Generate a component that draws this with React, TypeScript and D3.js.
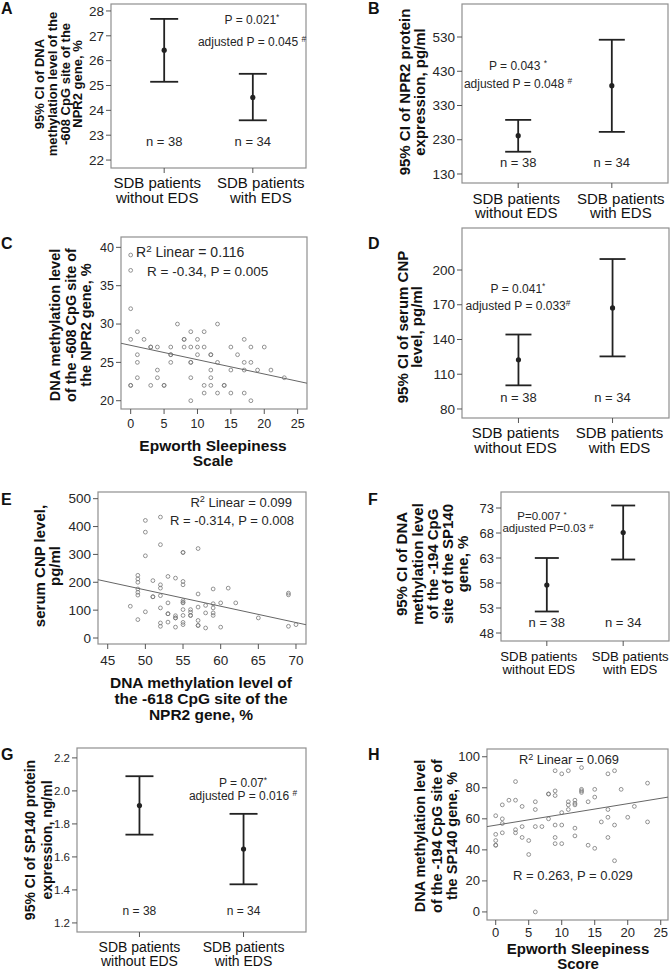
import React from "react";
import * as d3 from "d3";

const FONT = "'Liberation Sans', Arial, Helvetica, sans-serif";
const TEXT = "#262626";
const FRAME = "#8f8f8f";
const BAR = "#222";
const DOT = "#777";

// ---------- shared categories ----------
const categoryLines = [["SDB patients", "without EDS"], ["SDB patients", "with EDS"]];
const groupN = ["n = 38", "n = 34"];

// ---------- A: DNA methylation -608 CpG NPR2 ----------
const aMean = [26.42, 24.52];
const aLower = [25.15, 23.6];
const aUpper = [27.68, 25.47];
const aTicks = [22, 23, 24, 25, 26, 27, 28];
const aP = [["P = 0.021", "*"], ["adjusted P = 0.045 ", "#"]];

// ---------- B: NPR2 protein ----------
const bMean = [242, 388];
const bLower = [195, 253];
const bUpper = [288, 522];
const bTicks = [130, 230, 330, 430, 530];
const bP = [["P = 0.043 ", "*"], ["adjusted P = 0.048 ", "#"]];

// ---------- D: serum CNP ----------
const dMean = [122.5, 167.3];
const dLower = [100.4, 125.4];
const dUpper = [144.3, 209.5];
const dTicks = [80, 110, 140, 170, 200];
const dP = [["P = 0.041", "*"], ["adjusted P = 0.033", "#"]];

// ---------- F: DNA methylation -194 CpG SP140 ----------
const fMean = [57.6, 68.1];
const fLower = [52.3, 62.7];
const fUpper = [63.0, 73.5];
const fTicks = [48, 53, 58, 63, 68, 73];
const fP = [["P=0.007 ", "*"], ["adjusted P=0.03 ", "#"]];

// ---------- G: SP140 protein ----------
const gMean = [1.911, 1.648];
const gLower = [1.735, 1.434];
const gUpper = [2.089, 1.861];
const gTicks = [1.2, 1.4, 1.6, 1.8, 2.0, 2.2];
const gP = [["P = 0.07", "*"], ["adjusted P = 0.016 ", "#"]];

// ---------- C: ESS vs NPR2 -608 methylation ----------
const cPoints = [
  [0, 39], [0, 37], [0, 32], [0, 28], [0, 22], [0, 22],
  [1, 29], [1, 26], [1, 25], [1, 23],
  [2, 28],
  [3, 27], [3, 27], [3, 22],
  [4, 27], [4, 24], [4, 23],
  [5, 22], [5, 22],
  [6, 27], [6, 26], [6, 26], [6, 25],
  [7, 30],
  [8, 28], [8, 28], [8, 27],
  [9, 29], [9, 27], [9, 25], [9, 25], [9, 23], [9, 20],
  [10, 28], [10, 27], [10, 26],
  [11, 29], [11, 27], [11, 22], [11, 21],
  [12, 26], [12, 26], [12, 24], [12, 23], [12, 22],
  [13, 30], [13, 25], [13, 21],
  [14, 22], [14, 22],
  [15, 27], [15, 24], [15, 21],
  [16, 26],
  [17, 28], [17, 25], [17, 24], [17, 21],
  [18, 27], [18, 25], [18, 20],
  [19, 24], [20, 27], [21, 24], [23, 23],
];
const cFit = [27.22, -0.187];
const cXTicks = [0, 5, 10, 15, 20, 25];
const cYTicks = [20, 25, 30, 35, 40];

// ---------- E: NPR2 -618 methylation vs serum CNP ----------
const ePoints = [
  [48, 114], [49, 225], [49, 212], [49, 200], [49, 176], [49, 164], [49, 154], [49, 66],
  [50, 422], [50, 380], [50, 295], [50, 94],
  [51, 206], [51, 148], [51, 148],
  [52, 434], [52, 335], [52, 191], [52, 179], [52, 152], [52, 108], [52, 54], [52, 42],
  [53, 221], [53, 126], [53, 87], [53, 87], [53, 57],
  [54, 215], [54, 80], [54, 72], [54, 72], [54, 39],
  [55, 307], [55, 307], [55, 203], [55, 191], [55, 134], [55, 128], [55, 126], [55, 102], [55, 81], [55, 56], [55, 48],
  [56, 102], [56, 93], [56, 81], [56, 81],
  [57, 321], [57, 158], [57, 111], [57, 63], [57, 45], [57, 45],
  [58, 117], [58, 90], [58, 36],
  [59, 176], [59, 123], [59, 108], [59, 90], [59, 81],
  [60, 126], [60, 39], [61, 179], [62, 126], [65, 72],
  [69, 161], [69, 155], [69, 42], [70, 48],
];
const eFit = [465, -5.85];
const eXTicks = [45, 50, 55, 60, 65, 70];
const eYTicks = [0, 100, 200, 300, 400, 500];

// ---------- H: ESS vs SP140 -194 methylation ----------
const hPoints = [
  [0, 62], [0, 50], [0, 46], [0, 43], [0, 43],
  [1, 69], [1, 60], [1, 57], [1, 51],
  [2, 72],
  [3, 84], [3, 72], [3, 53], [3, 51],
  [4, 68], [4, 55], [4, 48],
  [5, 46], [5, 37],
  [6, 71], [6, 66], [6, 55], [6, 0],
  [7, 55],
  [8, 76], [8, 76], [8, 60],
  [9, 91], [9, 78], [9, 75], [9, 56], [9, 48], [9, 44],
  [10, 89], [10, 64], [10, 56], [10, 44],
  [11, 91], [11, 71], [11, 69], [11, 66],
  [12, 72], [12, 70], [12, 69], [12, 54], [12, 49],
  [13, 93], [13, 79], [13, 78], [13, 77],
  [14, 71], [14, 43],
  [15, 79], [15, 74], [15, 41],
  [16, 58],
  [17, 89], [17, 66], [17, 61], [17, 48],
  [18, 91], [18, 56], [18, 33],
  [19, 79], [20, 61], [21, 68], [23, 83], [23, 58],
];
const hFit = [55.9, 0.693];
const hXTicks = [0, 5, 10, 15, 20, 25];
const hYTicks = [0, 20, 40, 60, 80, 100];

// ---------- helpers ----------
function RotTitle({ lines, xs, cy, size }) {
  return (
    <g>
      {lines.map((l, i) => (
        <text key={i} transform={`translate(${xs[i]},${cy}) rotate(-90)`} textAnchor="middle" dy="0.35em"
          fontSize={size} fontWeight="bold" fill="#111" fontFamily={FONT}>{l}</text>
      ))}
    </g>
  );
}

function HTitle({ lines, cx, ys, size }) {
  return (
    <g>
      {lines.map((l, i) => (
        <text key={i} x={cx} y={ys[i]} textAnchor="middle" fontSize={size} fontWeight="bold" fill="#111" fontFamily={FONT}>{l}</text>
      ))}
    </g>
  );
}

function Letter({ t, x, y }) {
  return <text x={x} y={y} fontSize={16} fontWeight="bold" fill="#111" fontFamily="'Liberation Sans Narrow', 'Liberation Sans', Arial, sans-serif">{t}</text>;
}

function PText({ lines, cx, ys, size, anchor = "middle" }) {
  return (
    <g>
      {lines.map((l, i) => (
        <text key={i} x={cx[i]} y={ys[i]} textAnchor={anchor} fontSize={size} fill={TEXT} fontFamily={FONT}>
          {l[0]}
          <tspan fontSize={size * 0.7} dy={-size * 0.3}>{l[1]}</tspan>
        </text>
      ))}
    </g>
  );
}

function ErrorBarPanel(p) {
  const { fr, domain, ticks, fmt, tickSize, mean, lower, upper, cap, catSize, catDy, catShift, nDy, nSize } = p;
  const y = d3.scaleLinear().domain(domain).range([fr.y1, fr.y0]);
  const x = d3.scalePoint().domain([0, 1]).range([fr.x0, fr.x1]).padding(0.6);
  return (
    <g>
      <rect x={fr.x0} y={fr.y0} width={fr.x1 - fr.x0} height={fr.y1 - fr.y0} fill="none" stroke={FRAME} strokeWidth={1.2} />
      {ticks.map((t) => (
        <g key={t}>
          <line x1={fr.x0 - 5} x2={fr.x0} y1={y(t)} y2={y(t)} stroke="#555" />
          <text x={fr.x0 - 7} y={y(t)} dy="0.35em" textAnchor="end" fontSize={tickSize} fill={TEXT} fontFamily={FONT}>{fmt(t)}</text>
        </g>
      ))}
      {mean.map((m, i) => {
        const cx = x(i);
        return (
          <g key={i}>
            <line x1={cx} x2={cx} y1={fr.y1} y2={fr.y1 + 5} stroke="#555" />
            <line x1={cx} x2={cx} y1={y(lower[i])} y2={y(upper[i])} stroke={BAR} strokeWidth={1.8} />
            <line x1={cx - cap / 2} x2={cx + cap / 2} y1={y(upper[i])} y2={y(upper[i])} stroke={BAR} strokeWidth={1.8} />
            <line x1={cx - cap / 2} x2={cx + cap / 2} y1={y(lower[i])} y2={y(lower[i])} stroke={BAR} strokeWidth={1.8} />
            <circle cx={cx} cy={y(m)} r={2.6} fill={BAR} />
            <text x={cx} y={fr.y1 - nDy} textAnchor="middle" fontSize={nSize} fill={TEXT} fontFamily={FONT}>{groupN[i]}</text>
            {categoryLines[i].map((l, j) => (
              <text key={j} x={cx + catShift[i]} y={fr.y1 + catDy[j]} textAnchor="middle" fontSize={catSize} fill="#111" fontFamily={FONT}>{l}</text>
            ))}
          </g>
        );
      })}
    </g>
  );
}

function ScatterPanel(p) {
  const { fr, xDomain, yDomain, xTicks, yTicks, points, fit, tickSize, xLabDy } = p;
  const x = d3.scaleLinear().domain(xDomain).range([fr.x0, fr.x1]);
  const y = d3.scaleLinear().domain(yDomain).range([fr.y1, fr.y0]);
  const line = d3.line().x((d) => x(d[0])).y((d) => y(d[1]));
  const fitPts = xDomain.map((v) => [v, fit[0] + fit[1] * v]);
  return (
    <g>
      <rect x={fr.x0} y={fr.y0} width={fr.x1 - fr.x0} height={fr.y1 - fr.y0} fill="none" stroke={FRAME} strokeWidth={1.2} />
      {yTicks.map((t) => (
        <g key={t}>
          <line x1={fr.x0 - 5} x2={fr.x0} y1={y(t)} y2={y(t)} stroke="#555" />
          <text x={fr.x0 - 7} y={y(t)} dy="0.35em" textAnchor="end" fontSize={tickSize} fill={TEXT} fontFamily={FONT}>{t}</text>
        </g>
      ))}
      {xTicks.map((t) => (
        <g key={t}>
          <line x1={x(t)} x2={x(t)} y1={fr.y1} y2={fr.y1 + 5} stroke="#555" />
          <text x={x(t)} y={fr.y1 + xLabDy} textAnchor="middle" fontSize={tickSize} fill={TEXT} fontFamily={FONT}>{t}</text>
        </g>
      ))}
      {points.map((d, i) => (
        <circle key={i} cx={x(d[0])} cy={y(d[1])} r={1.9} fill="none" stroke={DOT} strokeWidth={0.8} />
      ))}
      <path d={line(fitPts)} fill="none" stroke="#666" strokeWidth={1} />
    </g>
  );
}

function R2({ x, y, val, size, anchor = "start" }) {
  return (
    <text x={x} y={y} fontSize={size} fill={TEXT} fontFamily={FONT} textAnchor={anchor}>
      R<tspan fontSize={size * 0.7} dy={-size * 0.35}>2</tspan>
      <tspan dy={size * 0.35}>{" Linear = " + val}</tspan>
    </text>
  );
}

export default function App() {
  return (
    <svg width={670} height={971} style={{ position: "absolute", left: 0, top: 0, background: "#fff" }}>
      <rect width={670} height={971} fill="#fff" />

      {/* A */}
      <Letter t="A" x={1} y={14} />
      <ErrorBarPanel fr={{ x0: 111, x1: 306, y0: 4, y1: 168 }} domain={[21.68, 28.28]} ticks={aTicks} fmt={(t) => String(t)}
        tickSize={13.5} mean={aMean} lower={aLower} upper={aUpper} cap={28} catSize={15} catDy={[20, 35]} catShift={[-7, 8]} nDy={22} nSize={13} />
      <PText lines={aP} cx={[252, 252]} ys={[24, 46]} size={12} />
      <RotTitle lines={["95% CI of DNA", "methylation level of the", "-608 CpG site of the", "NPR2 gene, %"]} xs={[39, 52, 65, 77]} cy={84} size={13} />

      {/* B */}
      <Letter t="B" x={368} y={14} />
      <ErrorBarPanel fr={{ x0: 462, x1: 668, y0: 4, y1: 183 }} domain={[103.7, 626.4]} ticks={bTicks} fmt={(t) => String(t)}
        tickSize={13.5} mean={bMean} lower={bLower} upper={bUpper} cap={26} catSize={15} catDy={[21, 35]} catShift={[-2, 9]} nDy={16} nSize={13} />
      <PText lines={bP} cx={[518, 518]} ys={[70, 88]} size={12} />
      <RotTitle lines={["95% CI of NPR2 protein", "expression, pg/ml"]} xs={[405, 420]} cy={92} size={15} />

      {/* C */}
      <Letter t="C" x={1} y={249} />
      <ScatterPanel fr={{ x0: 121, x1: 307, y0: 237, y1: 409 }} xDomain={[-1.45, 26.4]} yDomain={[18.92, 41.35]}
        xTicks={cXTicks} yTicks={cYTicks} points={cPoints} fit={cFit} tickSize={12.5} xLabDy={19} />
      <R2 x={136} y={257} val="0.116" size={14} />
      <text x={147} y={276} fontSize={13.5} fill={TEXT} fontFamily={FONT}>R = -0.34, P = 0.005</text>
      <RotTitle lines={["DNA methylation level", "of the -608 CpG site of", "the NPR2 gene, %"]} xs={[55, 71, 86]} cy={325} size={14.5} />
      <HTitle lines={["Epworth Sleepiness", "Scale"]} cx={213} ys={[451, 466]} size={15.5} />

      {/* D */}
      <Letter t="D" x={368} y={249} />
      <ErrorBarPanel fr={{ x0: 462, x1: 669, y0: 228, y1: 418 }} domain={[72.2, 236.3]} ticks={dTicks} fmt={(t) => String(t)}
        tickSize={13.5} mean={dMean} lower={dLower} upper={dUpper} cap={26} catSize={15} catDy={[20, 35]} catShift={[-3, 7]} nDy={16} nSize={13} />
      <PText lines={dP} cx={[518, 518]} ys={[293, 310]} size={12} />
      <RotTitle lines={["95% CI of serum CNP", "level, pg/ml"]} xs={[403, 417]} cy={327} size={15} />

      {/* E */}
      <Letter t="E" x={1} y={505} />
      <ScatterPanel fr={{ x0: 98, x1: 306, y0: 492, y1: 644 }} xDomain={[43.71, 71.33]} yDomain={[-21.5, 524]}
        xTicks={eXTicks} yTicks={eYTicks} points={ePoints} fit={eFit} tickSize={13.5} xLabDy={21} />
      <R2 x={292} y={507} val="0.099" size={13} anchor="end" />
      <text x={294} y={525} fontSize={13} fill={TEXT} fontFamily={FONT} textAnchor="end">R = -0.314, P = 0.008</text>
      <RotTitle lines={["serum CNP level,", "pg/ml"]} xs={[40, 55]} cy={566} size={15} />
      <HTitle lines={["DNA methylation level of", "the -618 CpG site of the", "NPR2 gene, %"]} cx={201} ys={[688, 704, 720]} size={15.5} />

      {/* F */}
      <Letter t="F" x={368} y={505} />
      <ErrorBarPanel fr={{ x0: 501, x1: 669, y0: 492, y1: 641 }} domain={[46.4, 76.2]} ticks={fTicks} fmt={(t) => String(t)}
        tickSize={13} mean={fMean} lower={fLower} upper={fUpper} cap={24} catSize={13.2} catDy={[20, 33]} catShift={[-8, 7]} nDy={14} nSize={13} />
      <PText lines={fP} cx={[542, 548]} ys={[520, 532]} size={11.5} />
      <RotTitle lines={["95% CI of DNA", "methylation level", "of the -194 CpG", "site of the SP140", "gene, %"]} xs={[402, 418, 433, 448, 463]} cy={564} size={15} />

      {/* G */}
      <Letter t="G" x={1} y={760} />
      <ErrorBarPanel fr={{ x0: 77, x1: 306, y0: 748, y1: 932 }} domain={[1.145, 2.26]} ticks={gTicks} fmt={(t) => t.toFixed(1)}
        tickSize={11.5} mean={gMean} lower={gLower} upper={gUpper} cap={28} catSize={14} catDy={[20, 34]} catShift={[0, 0]} nDy={17} nSize={12} />
      <PText lines={gP} cx={[243, 243]} ys={[787, 800]} size={12} />
      <RotTitle lines={["95% CI of SP140 protein", "expression, ng/ml"]} xs={[30, 47]} cy={840} size={14} />

      {/* H */}
      <Letter t="H" x={368} y={760} />
      <ScatterPanel fr={{ x0: 487, x1: 668, y0: 749, y1: 920 }} xDomain={[-1.32, 26.1]} yDomain={[-5.2, 105]}
        xTicks={hXTicks} yTicks={hYTicks} points={hPoints} fit={hFit} tickSize={13} xLabDy={17} />
      <R2 x={519} y={764} val="0.069" size={12.8} />
      <text x={513} y={880} fontSize={13} fill={TEXT} fontFamily={FONT}>R = 0.263, P = 0.029</text>
      <RotTitle lines={["DNA methylation level", "of the -194 CpG site of", "the SP140 gene, %"]} xs={[420, 437, 452]} cy={836} size={14.5} />
      <HTitle lines={["Epworth Sleepiness", "Score"]} cx={578} ys={[954, 969]} size={15} />
    </svg>
  );
}
